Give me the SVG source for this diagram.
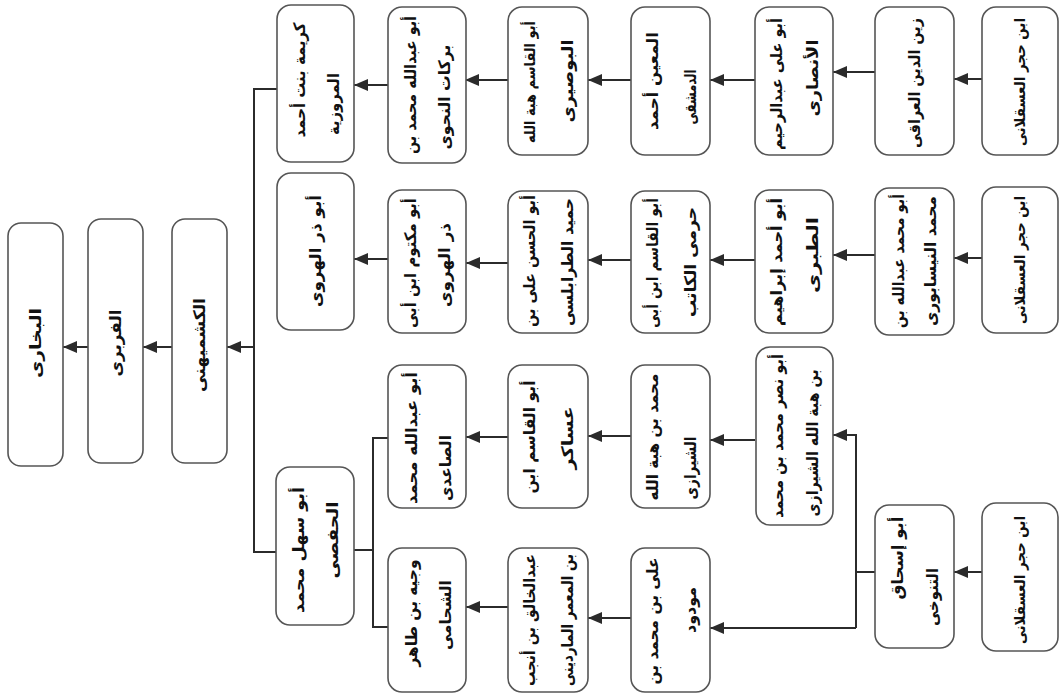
<svg xmlns="http://www.w3.org/2000/svg" width="1060" height="697" viewBox="0 0 1060 697">
<defs>
<style>
.box{fill:#fff;stroke:#555;stroke-width:1.6}
.ln{fill:none;stroke:#2b2b2b;stroke-width:2}
.ar{fill:none;stroke:#2b2b2b;stroke-width:2;marker-end:url(#ah)}
text{font-family:"DejaVu Sans",sans-serif;font-weight:bold;font-size:16px;fill:#111;text-anchor:middle;dominant-baseline:central}
.s15{font-size:15px}
</style>
<marker id="ah" markerUnits="userSpaceOnUse" markerWidth="14" markerHeight="12" refX="14" refY="6" orient="auto">
<path d="M0,0 L14,6 L0,12 z" fill="#2b2b2b"/>
</marker>
</defs>
<rect width="1060" height="697" fill="#fff"/>

<g id="connectors">
<path class="ar" d="M254,347 H227"/>
<path class="ar" d="M172,347 H143"/>
<path class="ar" d="M88,347 H63"/>
<path class="ln" d="M277,89 H254 V552 H276"/>
<path class="ln" d="M354,550 H373 M388,438 H373 V627 H388"/>
<path class="ar" d="M982,79 H954"/>
<path class="ar" d="M875,72 H833"/>
<path class="ar" d="M755,80 H710"/>
<path class="ar" d="M631,80 H588"/>
<path class="ar" d="M508,80 H465"/>
<path class="ar" d="M388,85 H354"/>
<path class="ar" d="M982,258 H954"/>
<path class="ar" d="M875,255 H833"/>
<path class="ar" d="M755,260 H710"/>
<path class="ar" d="M631,260 H588"/>
<path class="ar" d="M508,263 H466"/>
<path class="ar" d="M388,259 H354"/>
<path class="ar" d="M755,440 H710"/>
<path class="ar" d="M631,436 H588"/>
<path class="ar" d="M508,437 H466"/>
<path class="ar" d="M631,618 H588"/>
<path class="ar" d="M508,607 H466"/>
<path class="ar" d="M982,572 H954"/>
<path class="ln" d="M875,572 H856 V628"/>
<path class="ar" d="M856,573 V435 H833"/>
<path class="ar" d="M856,628 H710"/>
</g>

<g id="n-bukhari"><rect class="box" x="8" y="223" width="55" height="243" rx="13"/><text transform="translate(35.5,343) rotate(-90)" textLength="70" lengthAdjust="spacingAndGlyphs">البخارى</text></g>
<g id="n-firabri"><rect class="box" x="88" y="219" width="55" height="244" rx="13"/><text transform="translate(115.5,343) rotate(-90)" textLength="67" lengthAdjust="spacingAndGlyphs">الفربرى</text></g>
<g id="n-kushmihani"><rect class="box" x="172" y="219" width="55" height="244" rx="13"/><text transform="translate(199.5,345) rotate(-90)" textLength="94" lengthAdjust="spacingAndGlyphs">الكشميهنى</text></g>

<g id="n-karima"><rect class="box" x="277" y="5" width="77" height="157" rx="14"/>
<text transform="translate(299,80) rotate(-90)" textLength="115" lengthAdjust="spacingAndGlyphs">كريمة بنت أحمد</text>
<text transform="translate(333,104) rotate(-90)" textLength="62" lengthAdjust="spacingAndGlyphs">المروزية</text></g>
<g id="n-abudhar"><rect class="box" x="277" y="173" width="77" height="157" rx="14"/>
<text transform="translate(315.5,251) rotate(-90)" textLength="112" lengthAdjust="spacingAndGlyphs">أبو ذر الهروى</text></g>
<g id="n-abusahl"><rect class="box" x="276" y="467" width="78" height="158" rx="14"/>
<text transform="translate(298,550) rotate(-90)" textLength="126" lengthAdjust="spacingAndGlyphs">أبو سهل محمد</text>
<text transform="translate(332,540) rotate(-90)" textLength="77" lengthAdjust="spacingAndGlyphs">الحفصى</text></g>

<g id="n-nahwi"><rect class="box" x="388" y="7" width="78" height="156" rx="14"/>
<text transform="translate(410,85) rotate(-90)" textLength="138" lengthAdjust="spacingAndGlyphs">أبو عبدالله محمد بن</text>
<text transform="translate(444,97) rotate(-90)" textLength="105" lengthAdjust="spacingAndGlyphs">بركات النحوى</text></g>
<g id="n-maktum"><rect class="box" x="388" y="190" width="78" height="143" rx="14"/>
<text transform="translate(410,263) rotate(-90)" textLength="130" lengthAdjust="spacingAndGlyphs">أبو مكتوم ابن أبى</text>
<text transform="translate(444,265) rotate(-90)" textLength="84" lengthAdjust="spacingAndGlyphs">ذر الهروى</text></g>
<g id="n-saidi"><rect class="box" x="388" y="365" width="78" height="143" rx="14"/>
<text transform="translate(411,438) rotate(-90)" textLength="132" lengthAdjust="spacingAndGlyphs">أبو عبدالله محمد</text>
<text transform="translate(445,468) rotate(-90)" textLength="66" lengthAdjust="spacingAndGlyphs">الصاعدى</text></g>
<g id="n-shahhami"><rect class="box" x="388" y="548" width="78" height="144" rx="14"/>
<text transform="translate(411,613) rotate(-90)" textLength="107" lengthAdjust="spacingAndGlyphs">وجيه بن طاهر</text>
<text transform="translate(445,615) rotate(-90)" textLength="70" lengthAdjust="spacingAndGlyphs">الشحامى</text></g>

<g id="n-busiri"><rect class="box" x="508" y="7" width="80" height="148" rx="14"/>
<text class="s15" transform="translate(530,82) rotate(-90)" textLength="122" lengthAdjust="spacingAndGlyphs">أبو القاسم هبة الله</text>
<text transform="translate(567,81) rotate(-90)" textLength="83" lengthAdjust="spacingAndGlyphs">البوصيرى</text></g>
<g id="n-tarabulsi"><rect class="box" x="508" y="191" width="80" height="142" rx="14"/>
<text transform="translate(529,261) rotate(-90)" textLength="132" lengthAdjust="spacingAndGlyphs">أبو الحسن على بن</text>
<text transform="translate(567,262) rotate(-90)" textLength="128" lengthAdjust="spacingAndGlyphs">حميد الطرابلسى</text></g>
<g id="n-asakir"><rect class="box" x="508" y="365" width="80" height="143" rx="14"/>
<text transform="translate(529,437) rotate(-90)" textLength="113" lengthAdjust="spacingAndGlyphs">أبو القاسم ابن</text>
<text transform="translate(567,438) rotate(-90)" textLength="63" lengthAdjust="spacingAndGlyphs">عساكر</text></g>
<g id="n-mardini"><rect class="box" x="508" y="548" width="80" height="144" rx="14"/>
<text transform="translate(529,620) rotate(-90)" textLength="132" lengthAdjust="spacingAndGlyphs">عبدالخالق بن أنجب</text>
<text transform="translate(567,620) rotate(-90)" textLength="132" lengthAdjust="spacingAndGlyphs">بن المعمر الماردينى</text></g>

<g id="n-dimashqi"><rect class="box" x="631" y="7" width="79" height="148" rx="14"/>
<text transform="translate(652,81) rotate(-90)" textLength="98" lengthAdjust="spacingAndGlyphs">المعين أحمد</text>
<text transform="translate(690,97) rotate(-90)" textLength="55" lengthAdjust="spacingAndGlyphs">الدمشقى</text></g>
<g id="n-katib"><rect class="box" x="631" y="191" width="79" height="142" rx="14"/>
<text transform="translate(652,263) rotate(-90)" textLength="130" lengthAdjust="spacingAndGlyphs">أبو القاسم ابن أبى</text>
<text transform="translate(690,262) rotate(-90)" textLength="110" lengthAdjust="spacingAndGlyphs">حرمى الكاتب</text></g>
<g id="n-shirazi1"><rect class="box" x="631" y="365" width="79" height="143" rx="14"/>
<text transform="translate(652,437) rotate(-90)" textLength="127" lengthAdjust="spacingAndGlyphs">محمد بن هبة الله</text>
<text transform="translate(690,468) rotate(-90)" textLength="63" lengthAdjust="spacingAndGlyphs">الشيرازى</text></g>
<g id="n-mawdud"><rect class="box" x="631" y="548" width="79" height="144" rx="14"/>
<text transform="translate(652,621) rotate(-90)" textLength="127" lengthAdjust="spacingAndGlyphs">على بن محمد بن</text>
<text transform="translate(690,610) rotate(-90)" textLength="46" lengthAdjust="spacingAndGlyphs">مودود</text></g>

<g id="n-ansari"><rect class="box" x="755" y="7" width="78" height="148" rx="14"/>
<text transform="translate(776,84) rotate(-90)" textLength="132" lengthAdjust="spacingAndGlyphs">أبو على عبدالرحيم</text>
<text transform="translate(812,78) rotate(-90)" textLength="77" lengthAdjust="spacingAndGlyphs">الأنصارى</text></g>
<g id="n-tabari"><rect class="box" x="755" y="190" width="78" height="143" rx="14"/>
<text transform="translate(776,262) rotate(-90)" textLength="128" lengthAdjust="spacingAndGlyphs">أبو أحمد إبراهيم</text>
<text transform="translate(812,255) rotate(-90)" textLength="76" lengthAdjust="spacingAndGlyphs">الطبرى</text></g>
<g id="n-abunasr"><rect class="box" x="756" y="347" width="77" height="178" rx="14"/>
<text transform="translate(777,436) rotate(-90)" textLength="164" lengthAdjust="spacingAndGlyphs">أبو نصر محمد بن محمد</text>
<text transform="translate(812,443) rotate(-90)" textLength="147" lengthAdjust="spacingAndGlyphs">بن هبة الله الشيرازى</text></g>

<g id="n-iraqi"><rect class="box" x="875" y="7" width="79" height="148" rx="14"/>
<text transform="translate(914.5,83) rotate(-90)" textLength="130" lengthAdjust="spacingAndGlyphs">زين الدين العراقى</text></g>
<g id="n-naysaburi"><rect class="box" x="875" y="188" width="79" height="147" rx="14"/>
<text transform="translate(898,261) rotate(-90)" textLength="134" lengthAdjust="spacingAndGlyphs">أبو محمد عبدالله بن</text>
<text transform="translate(930,261) rotate(-90)" textLength="130" lengthAdjust="spacingAndGlyphs">محمد النيسابورى</text></g>
<g id="n-tanukhi"><rect class="box" x="875" y="505" width="79" height="143" rx="14"/>
<text transform="translate(897,558) rotate(-90)" textLength="83" lengthAdjust="spacingAndGlyphs">أبو إسحاق</text>
<text transform="translate(932,597) rotate(-90)" textLength="58" lengthAdjust="spacingAndGlyphs">التنوخى</text></g>

<g id="n-hajar1"><rect class="box" x="982" y="7" width="76" height="148" rx="14"/>
<text class="s15" transform="translate(1020,82) rotate(-90)" textLength="128" lengthAdjust="spacingAndGlyphs">ابن حجر العسقلانى</text></g>
<g id="n-hajar2"><rect class="box" x="982" y="187" width="76" height="146" rx="14"/>
<text class="s15" transform="translate(1020,260) rotate(-90)" textLength="128" lengthAdjust="spacingAndGlyphs">ابن حجر العسقلانى</text></g>
<g id="n-hajar3"><rect class="box" x="982" y="503" width="76" height="148" rx="14"/>
<text class="s15" transform="translate(1020,580) rotate(-90)" textLength="128" lengthAdjust="spacingAndGlyphs">ابن حجر العسقلانى</text></g>
</svg>
